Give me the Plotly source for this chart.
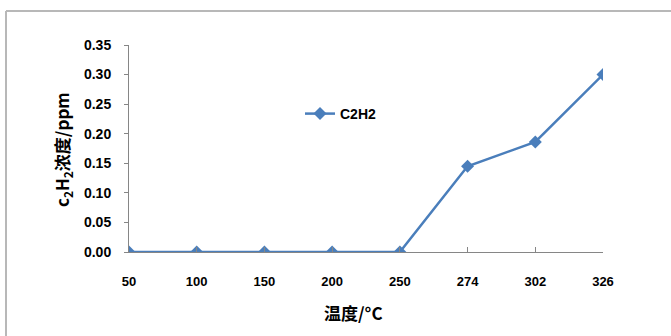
import plotly.graph_objects as go

temps = ["50", "100", "150", "200", "250", "274", "302", "326"]
c2h2 = [0.0, 0.0, 0.0, 0.0, 0.0, 0.145, 0.186, 0.300]
y_ticks = [0.00, 0.05, 0.10, 0.15, 0.20, 0.25, 0.30, 0.35]

W, H = 671, 336
L, R, T, B = 129, 68, 45, 84
pw, ph = W - L - R, H - T - B

def px(x):
    return (x - L) / pw

def py(y):
    return (H - B - y) / ph

color = "#4a7ebb"
fig = go.Figure()
fig.add_trace(go.Scatter(
    x=list(range(len(temps))), y=c2h2, mode="lines+markers", name="C2H2",
    line=dict(color=color, width=2.5),
    marker=dict(symbol="diamond", size=10, color=color),
))

font = "Liberation Sans, Arial, sans-serif"
fig.update_layout(
    width=W, height=H,
    margin=dict(l=L, r=R, t=T, b=B),
    paper_bgcolor="white", plot_bgcolor="white",
    showlegend=True,
    legend=dict(x=px(300), y=py(114), xanchor="left", yanchor="middle",
                bgcolor="rgba(0,0,0,0)",
                font=dict(family=font, size=14, color="black", weight="bold")),
    xaxis=dict(
        range=[0, len(temps) - 1], tickmode="array",
        tickvals=list(range(len(temps))), ticktext=temps,
        showgrid=False, zeroline=False,
        showline=True, linecolor="#868686", linewidth=1,
        ticks="inside", ticklen=5, tickcolor="#868686",
        tickfont=dict(family=font, size=13, color="black", weight="bold"),
        ticklabelstandoff=17,
    ),
    yaxis=dict(
        range=[0, 0.35], tickmode="array", tickvals=y_ticks,
        ticktext=[f"{v:.2f}" for v in y_ticks],
        showgrid=False, zeroline=False,
        showline=True, linecolor="#868686", linewidth=1,
        ticks="outside", ticklen=4, tickcolor="#868686",
        tickfont=dict(family=font, size=14, color="black", weight="bold"),
        ticklabelstandoff=10,
    ),
    annotations=[
        dict(text="温度/°C", xref="paper", yref="paper", x=px(353), y=py(312),
             xanchor="center", yanchor="middle", showarrow=False,
             font=dict(family="Noto Sans CJK SC, " + font, size=17, color="black", weight="bold")),
        dict(text="c<sub>2</sub>H<sub>2</sub>浓度/ppm", xref="paper", yref="paper",
             x=px(62), y=py(150), xanchor="center", yanchor="middle",
             textangle=-90, showarrow=False,
             font=dict(family="Noto Sans CJK SC, " + font, size=17, color="black", weight="bold")),
    ],
    shapes=[
        dict(type="line", xref="paper", yref="paper",
             x0=px(6), y0=py(11), x1=px(671), y1=py(11),
             line=dict(color="#b8b8b8", width=2), layer="above"),
        dict(type="line", xref="paper", yref="paper",
             x0=px(6), y0=py(11), x1=px(6), y1=py(336),
             line=dict(color="#b8b8b8", width=2), layer="above"),
    ],
)

fig.write_html("out.html", config={"displayModeBar": False},
               post_script="document.body.style.margin='0';")
